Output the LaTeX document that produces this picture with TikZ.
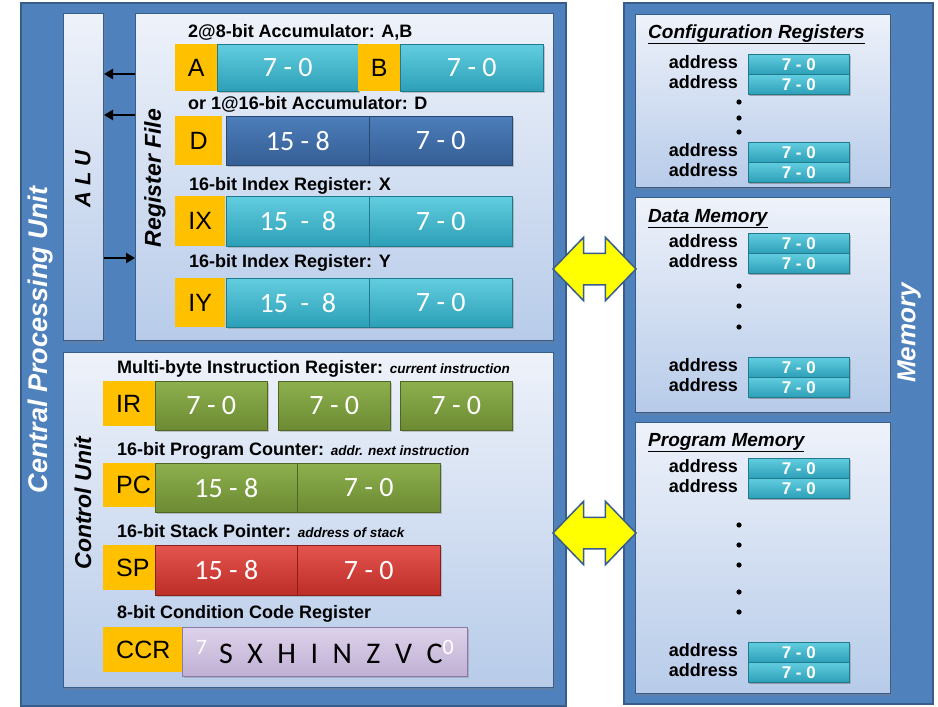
\documentclass[tikz,border=0pt]{standalone}
\usepackage{fontspec}
\setmainfont{Liberation Sans}
\newfontfamily\calfont{Carlito}
\usetikzlibrary{shapes.arrows,shadows,arrows.meta}

\definecolor{cpublue}{HTML}{4F81BD}
\definecolor{cpuline}{HTML}{385D8A}
\definecolor{paneltop}{HTML}{EEF2FA}
\definecolor{panelbot}{HTML}{B7CBE9}
\definecolor{regorange}{HTML}{FFC000}
\definecolor{tealtop}{HTML}{62CDDF}
\definecolor{tealbot}{HTML}{2C9FB7}
\definecolor{tealline}{HTML}{1F7A8E}
\definecolor{dbluetop}{HTML}{4C7DBA}
\definecolor{dbluebot}{HTML}{355E94}
\definecolor{dblueline}{HTML}{274872}
\definecolor{greentop}{HTML}{8DB04D}
\definecolor{greenbot}{HTML}{6C8A33}
\definecolor{greenline}{HTML}{4E6524}
\definecolor{redtop}{HTML}{E5554F}
\definecolor{redbot}{HTML}{BC2D28}
\definecolor{redline}{HTML}{8A1E1A}
\definecolor{ccrtop}{HTML}{DDD2EA}
\definecolor{ccrbot}{HTML}{C0B0D4}
\definecolor{ccrline}{HTML}{8C7AA6}
\definecolor{arrowyellow}{HTML}{FFFF00}

\newcommand{\fs}[1]{\fontsize{#1}{#1}\selectfont}
\newcommand{\note}[1]{{\itshape\fs{13.5}#1}}
\newcommand{\bitno}[1]{\raisebox{9pt}{\fs{22}\color{white}#1}}

\tikzset{
	wh/.style 2 args={minimum width=#1pt,minimum height=#2pt},
	bigbox/.style={rectangle,anchor=north west,fill=cpublue,draw=cpuline,line width=1.5pt},
	panel/.style={rectangle,anchor=north west,top color=paneltop,bottom color=panelbot,draw=cpuline,line width=1pt,
		drop shadow={shadow xshift=1.5pt,shadow yshift=-2pt,opacity=.35}},
	regname/.style={rectangle,anchor=north west,fill=regorange,inner sep=0pt,font=\fs{25}},
	cuname/.style={regname,inner xsep=13pt,text width=#1,align=left},
	bar/.style={rectangle,anchor=north west,inner sep=0pt,line width=.6pt,text=white,font=\calfont\fs{28},
		drop shadow={shadow xshift=1.5pt,shadow yshift=-2pt,opacity=.4}},
	tealbar/.style={bar,top color=tealtop,bottom color=tealbot,draw=tealline},
	dbluebar/.style={bar,top color=dbluetop,bottom color=dbluebot,draw=dblueline},
	greenbar/.style={bar,top color=greentop,bottom color=greenbot,draw=greenline},
	redbar/.style={bar,top color=redtop,bottom color=redbot,draw=redline},
	ccrbar/.style={bar,top color=ccrtop,bottom color=ccrbot,draw=ccrline,text=black,font=\calfont\fs{30}},
	membar/.style={tealbar,wh={101}{20},font=\bfseries\fs{17},drop shadow={shadow xshift=1pt,shadow yshift=-1.5pt,opacity=.4}},
	lbl/.style={anchor=base west,inner sep=0pt,font=\bfseries\fs{18}},
	sect/.style={anchor=base west,inner sep=0pt,font=\bfseries\itshape\fs{19}},
	addr/.style={anchor=base east,inner sep=0pt,font=\bfseries\fs{18}},
	vlbl/.style={rotate=90,inner sep=0pt,font=\bfseries\itshape\fs{23}},
	busarrow/.style={line width=2.5pt,-{Triangle[length=9pt,width=10pt]}},
	dblarrow/.style={double arrow,fill=arrowyellow,draw=cpuline,line width=1.5pt,inner xsep=0pt,inner ysep=15pt,
		minimum height=83pt,minimum width=0pt,double arrow head extend=16pt,double arrow tip angle=92}
}

\begin{document}
\begin{tikzpicture}[x=1pt,y=-1pt]
	\path[use as bounding box,fill=white] (0,0) rectangle (938,707);

	% CPU side
	\node at (20,2)   [bigbox,wh={545}{703}] (cpu) {};
	\node at (63,13)  [panel,wh={40}{327}]   (alu) {};
	\node at (135,13) [panel,wh={418}{327}]  (regfile) {};
	\node at (63,352) [panel,wh={490}{335}]  (ctrl) {};

	\node at (41,340)  [vlbl,font=\bfseries\itshape\fs{27},text=white] (cputitle) {Central Processing Unit};
	\node at (83,179)  [vlbl,font=\bfseries\itshape\fs{22}] (alulbl) {A L U};
	\node at (155,178) [vlbl] (rflbl) {Register File};
	\node at (83,503)  [vlbl] (culbl) {Control Unit};

	% register file
	\node at (188,37)  [lbl] (txtAB) {2@8-bit Accumulator: A,B};
	\node at (175,44)  [regname,wh={42}{47}]  (regA)  {A};
	\node at (217,44)  [tealbar,wh={141}{47}] (barA)  {7 - 0};
	\node at (358,44)  [regname,wh={42}{47}]  (regB)  {B};
	\node at (400,44)  [tealbar,wh={143}{47}] (barB)  {7 - 0};

	\node at (188,109) [lbl] (txtD) {or 1@16-bit Accumulator: D};
	\node at (175,116) [regname,wh={47}{49}]   (regD)   {D};
	\node at (226,116) [dbluebar,wh={143}{49}] (barDhi) {15 - 8};
	\node at (369,116) [dbluebar,wh={143}{49}] (barDlo) {7 - 0};

	\node at (189,190) [lbl] (txtX) {16-bit Index Register: X};
	\node at (175,196) [regname,wh={50}{50}]  (regX)   {IX};
	\node at (226,196) [tealbar,wh={143}{50}] (barXhi) {15 ~- ~8};
	\node at (369,196) [tealbar,wh={143}{50}] (barXlo) {7 - 0};

	\node at (189,267) [lbl] (txtY) {16-bit Index Register: Y};
	\node at (175,278) [regname,wh={50}{49}]  (regY)   {IY};
	\node at (226,278) [tealbar,wh={143}{49}] (barYhi) {15 ~- ~8};
	\node at (369,278) [tealbar,wh={143}{49}] (barYlo) {7 - 0};

	\draw[busarrow] ([yshift=-61pt]regfile.north west)  -- ([yshift=-61pt]alu.north east);
	\draw[busarrow] ([yshift=-102pt]regfile.north west) -- ([yshift=-102pt]alu.north east);
	\draw[busarrow] ([yshift=-245pt]alu.north east)     -- ([yshift=-245pt]regfile.north west);

	% control unit
	\node at (117,373) [lbl] (txtIR) {Multi-byte Instruction Register: \note{current instruction}};
	\node at (103,381) [cuname=26pt,minimum height=45pt] (regIR) {IR};
	\node at (155,381) [greenbar,wh={112}{49}] (barIRa) {7 - 0};
	\node at (278,381) [greenbar,wh={112}{49}] (barIRb) {7 - 0};
	\node at (400,381) [greenbar,wh={112}{49}] (barIRc) {7 - 0};

	\node at (117,455) [lbl] (txtPC) {16-bit Program Counter: \note{addr. next instruction}};
	\node at (103,463) [cuname=26pt,minimum height=44pt] (regPC) {PC};
	\node at (155,463) [greenbar,wh={142}{49}] (barPChi) {15 - 8};
	\node at (297,463) [greenbar,wh={143}{49}] (barPClo) {7 - 0};

	\node at (117,537) [lbl] (txtSP) {16-bit Stack Pointer: \note{address of stack}};
	\node at (103,545) [cuname=26pt,minimum height=45pt] (regSP) {SP};
	\node at (155,545) [redbar,wh={142}{50}] (barSPhi) {15 - 8};
	\node at (297,545) [redbar,wh={143}{50}] (barSPlo) {7 - 0};

	\node at (117,618) [lbl] (txtCCR) {8-bit Condition Code Register};
	\node at (103,627) [cuname=53pt,minimum height=45pt] (regCCR) {CCR};
	\node at (182,627) [ccrbar,wh={285}{49}] (barCCR)
		{\bitno{7}\hspace{12pt}S\hspace{14.5pt}X\hspace{14.5pt}H\hspace{14.5pt}I\hspace{14.5pt}N\hspace{14.5pt}Z\hspace{14.5pt}V\hspace{14.5pt}C\bitno{0}};

	% memory side
	\node at (623,2)   [bigbox,wh={309}{701}] (memory) {};
	\node at (635,14)  [panel,wh={255}{173}]  (cfgregs) {};
	\node at (635,197) [panel,wh={255}{215}]  (datamem) {};
	\node at (635,422) [panel,wh={255}{271}]  (progmem) {};

	\node at (909,333) [vlbl,font=\bfseries\itshape\fs{26},text=white] (memlbl) {Memory};
	\node at (648,38)  [sect] (cfgtitle) {\underline{Configuration Registers}};
	\node at (648,222) [sect] (dattitle) {\underline{Data Memory}};
	\node at (648,446) [sect] (prgtitle) {\underline{Program Memory}};

	\foreach \t/\n in {54/cfgA,142/cfgB,233/datA,357/datB,458/prgA,642/prgB}{
		\node at (748,\t)    [membar] (\n1) {7 - 0};
		\node at (748,\t+20) [membar] (\n2) {7 - 0};
		\node at (738,\t+14) [addr] (\n1addr) {address};
		\node at (738,\t+34) [addr] (\n2addr) {address};
	}
	\foreach \y in {102,118,132,286,306,327,525,545,565,592,612}
		\fill (739,\y) circle (2.6pt);

	% buses between CPU and memory
	\node at (594.5,269) [dblarrow] (rfbus) {};
	\node at (594.5,533) [dblarrow] (cubus) {};
\end{tikzpicture}
\end{document}
